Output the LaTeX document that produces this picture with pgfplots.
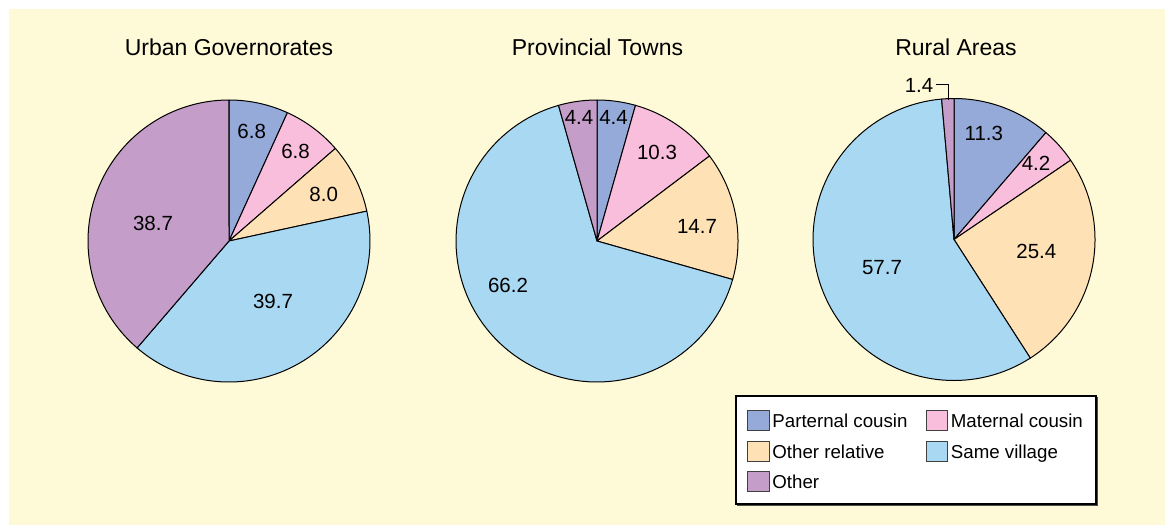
\documentclass[border=0pt]{standalone}
\usepackage{pgfplots}
\pgfplotsset{compat=1.18}
\usepackage{pgfplotstable}
\usepackage{fontspec}
\setmainfont{Liberation Sans}
\definecolor{cPat}{RGB}{149,170,216}
\definecolor{cMat}{RGB}{249,190,220}
\definecolor{cRel}{RGB}{254,226,182}
\definecolor{cVil}{RGB}{169,216,242}
\definecolor{cOth}{RGB}{197,157,201}
\definecolor{bgY}{RGB}{254,249,214}

% shares in percent, clockwise from 12 o'clock:
% paternal cousin, maternal cousin, other relative, same village, other
\pgfplotstableread{
share
6.8
6.8
8.0
39.7
38.7
}\urban
\pgfplotstableread{
share
4.4
10.3
14.7
66.2
4.4
}\provincial
\pgfplotstableread{
share
11.3
4.2
25.4
57.7
1.4
}\rural

\newcommand\drawpie[3]{%
  \gdef\cum{0}%
  \pgfplotsforeachungrouped \i in {0,...,4}{%
    \pgfplotstablegetelem{\i}{share}\of#1%
    \let\v\pgfplotsretval
    \pgfmathsetmacro\aS{\cum*3.6}%
    \pgfmathsetmacro\aE{(\cum+\v)*3.6}%
    \pgfmathsetmacro\newcum{\cum+\v}\xdef\cum{\newcum}%
    \edef\col{\ifcase\i cPat\or cMat\or cRel\or cVil\else cOth\fi}%
    \edef\temp{\noexpand\addplot[fill=\col, draw=black, line width=0.5pt, line join=round, domain=\aS:\aE, samples=90, variable=\noexpand\t] ({#2+141*sin(\noexpand\t)},{#3-141*cos(\noexpand\t)}) -- (axis cs:#2,#3) -- cycle;}%
    \temp
  }%
}

\newcommand\numfont{\fontsize{10.25}{12}\selectfont}
\newcommand\legfont{\fontsize{9.35}{11}\selectfont}
\newcommand\titfont{\fontsize{11.5}{13}\selectfont}

\begin{document}
\begin{tikzpicture}
\fill[white] (0,0) rectangle (582.5pt,262.5pt);
\fill[bgY] (4.5pt,0) rectangle (582.5pt,258pt);
\begin{axis}[
  at={(0,0)}, anchor=south west,
  width=582.5pt, height=262.5pt, scale only axis,
  xmin=0, xmax=1165, ymin=0, ymax=525, y dir=reverse,
  hide axis, clip=false,
]
\drawpie{\urban}{229}{241}
\drawpie{\provincial}{597}{241}
\drawpie{\rural}{954}{239.5}

% titles
\node[anchor=base, font=\titfont] at (axis cs:229,55) {Urban Governorates};
\node[anchor=base, font=\titfont] at (axis cs:597.5,55) {Provincial Towns};
\node[anchor=base, font=\titfont] at (axis cs:956,55) {Rural Areas};

% value labels (base = centre + 7.3)
\node[anchor=base, font=\numfont] at (axis cs:251.7,138.6) {6.8};
\node[anchor=base, font=\numfont] at (axis cs:295.5,158.3) {6.8};
\node[anchor=base, font=\numfont] at (axis cs:323.7,201.6) {8.0};
\node[anchor=base, font=\numfont] at (axis cs:273,308.3) {39.7};
\node[anchor=base, font=\numfont] at (axis cs:153,230.3) {38.7};

\node[anchor=base, font=\numfont] at (axis cs:613.5,124.8) {4.4};
\node[anchor=base, font=\numfont] at (axis cs:657,159.3) {10.3};
\node[anchor=base, font=\numfont] at (axis cs:697,233.3) {14.7};
\node[anchor=base, font=\numfont] at (axis cs:508,292.3) {66.2};
\node[anchor=base, font=\numfont] at (axis cs:579,124.8) {4.4};

\node[anchor=base, font=\numfont] at (axis cs:983.8,140.8) {11.3};
\node[anchor=base, font=\numfont] at (axis cs:1036,170.3) {4.2};
\node[anchor=base, font=\numfont] at (axis cs:1036.3,258.1) {25.4};
\node[anchor=base, font=\numfont] at (axis cs:882,274) {57.7};
\node[anchor=base, font=\numfont] at (axis cs:919,92.3) {1.4};
\draw[black, line width=0.5pt] (axis cs:935.5,84) -- (axis cs:948.5,84) -- (axis cs:948.5,99.5);

% legend
\draw[black!70, line width=1pt] (axis cs:738,398) rectangle (axis cs:1097,505);
\filldraw[fill=white, draw=black, line width=0.6pt] (axis cs:736,396) rectangle (axis cs:1096,504);
\filldraw[fill=cPat, draw=black!75, line width=0.5pt] (axis cs:747.5,410.7) rectangle (axis cs:769,430.7);
\node[anchor=base west, font=\legfont, inner sep=0pt] at (axis cs:772,427.4) {Parternal cousin};
\filldraw[fill=cMat, draw=black!75, line width=0.5pt] (axis cs:926,410.7) rectangle (axis cs:947.5,430.7);
\node[anchor=base west, font=\legfont, inner sep=0pt] at (axis cs:950.5,427.4) {Maternal cousin};
\filldraw[fill=cRel, draw=black!75, line width=0.5pt] (axis cs:747.5,441.7) rectangle (axis cs:769,461.7);
\node[anchor=base west, font=\legfont, inner sep=0pt] at (axis cs:772,458.4) {Other relative};
\filldraw[fill=cVil, draw=black!75, line width=0.5pt] (axis cs:926,441.7) rectangle (axis cs:947.5,461.7);
\node[anchor=base west, font=\legfont, inner sep=0pt] at (axis cs:950.5,458.4) {Same village};
\filldraw[fill=cOth, draw=black!75, line width=0.5pt] (axis cs:747.5,471.7) rectangle (axis cs:769,491.7);
\node[anchor=base west, font=\legfont, inner sep=0pt] at (axis cs:772,488.4) {Other};
\end{axis}
\end{tikzpicture}
\end{document}
